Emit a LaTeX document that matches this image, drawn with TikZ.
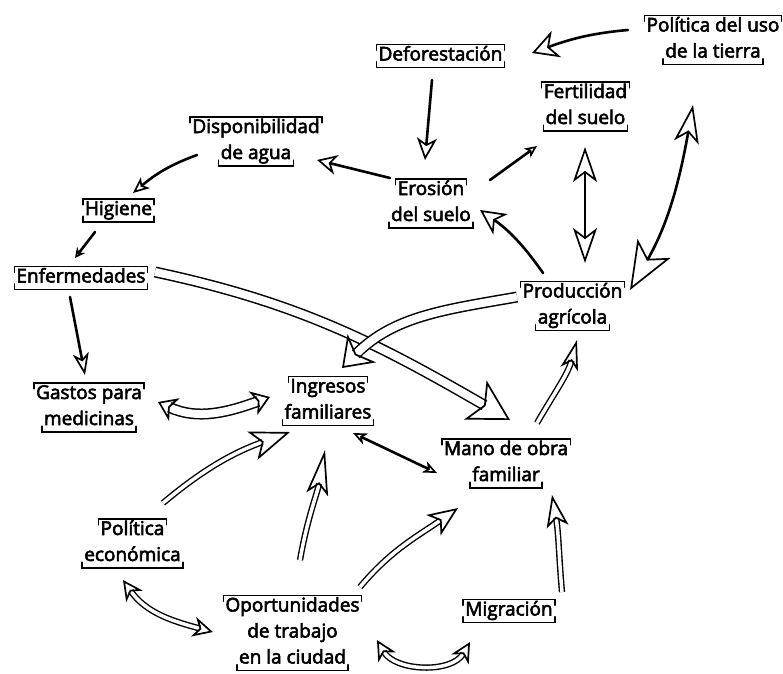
\documentclass[tikz,border=0pt]{standalone}
\usepackage{fontspec}
\setmainfont{Open Sans}[FakeBold=3]
\usetikzlibrary{arrows.meta,calc}
\begin{document}
\begin{tikzpicture}[x=1pt,y=-1pt,
  ln/.style={font=\fontsize{19}{26}\selectfont, inner sep=2pt, text height=14pt, text depth=5pt},
  brk/.style={line width=1.5pt, line cap=round},
  sl/.style={line width=2.6pt, line cap=round},
  dl/.style={double, double distance=3.5pt, line width=1.4pt},
  wl/.style={double, double distance=8pt, line width=1.5pt},
  hd/.style n args={3}{-{Stealth[open,length=#1,width=#2,inset=#3,line width=1.7pt]}},
  hdd/.style n args={6}{{Stealth[open,length=#1,width=#2,inset=#3,line width=1.7pt]}-{Stealth[open,length=#4,width=#5,inset=#6,line width=1.7pt]}}
]
\fill[white] (0,0) rectangle (783,673);
\useasboundingbox (0,0) rectangle (783,673);

% concept centres
\coordinate (deforest)   at (440.5,56);
\coordinate (politierra) at (713,39);
\coordinate (fert)       at (585.5,106.5);
\coordinate (eros)       at (431,203.5);
\coordinate (agua)       at (256,141.5);
\coordinate (higiene)    at (118.5,210.5);
\coordinate (enferm)     at (81,278);
\coordinate (gastos)     at (89,407.5);
\coordinate (ingresos)   at (328,401);
\coordinate (prod)       at (572.5,306);
\coordinate (mano)       at (506,463.5);
\coordinate (polecon)    at (132.5,543.5);
\coordinate (oport)      at (292.5,632);
\coordinate (migr)       at (509,611);

% text lines
\node[ln] (deforest-1)   at (440.5,56)  {Deforestación};
\node[ln] (politierra-1) at (713,27)    {Política del uso};
\node[ln] (politierra-2) at (713,53)    {de la tierra};
\node[ln] (fert-1)       at (585.5,93.5) {Fertilidad};
\node[ln] (fert-2)       at (585.5,119.5) {del suelo};
\node[ln] (eros-1)       at (431,190.5) {Erosión};
\node[ln] (eros-2)       at (431,216.5) {del suelo};
\node[ln] (agua-1)       at (256,128.5) {Disponibilidad};
\node[ln] (agua-2)       at (256,154.5) {de agua};
\node[ln] (higiene-1)    at (118.5,210.5) {Higiene};
\node[ln] (enferm-1)     at (81,278)    {Enfermedades};
\node[ln] (gastos-1)     at (89,394.5)  {Gastos para};
\node[ln] (gastos-2)     at (89,420.5)  {medicinas};
\node[ln] (ingresos-1)   at (328,388)   {Ingresos};
\node[ln] (ingresos-2)   at (328,414)   {familiares};
\node[ln] (prod-1)       at (572.5,293) {Producción};
\node[ln] (prod-2)       at (572.5,319) {agrícola};
\node[ln] (mano-1)       at (506,450.5) {Mano de obra};
\node[ln] (mano-2)       at (506,476.5) {familiar};
\node[ln] (polecon-1)    at (132.5,530.5) {Política};
\node[ln] (polecon-2)    at (132.5,556.5) {económica};
\node[ln] (oport-1)      at (292.5,607) {Oportunidades};
\node[ln] (oport-2)      at (292.5,633) {de trabajo};
\node[ln] (oport-3)      at (292.5,659) {en la ciudad};
\node[ln] (migr-1)       at (509,611)   {Migración};

% hand-drawn style brackets (top over first line, bottom under last line)
\foreach \a/\b in {deforest-1/deforest-1,politierra-1/politierra-2,fert-1/fert-2,eros-1/eros-2,agua-1/agua-2,higiene-1/higiene-1,enferm-1/enferm-1,gastos-1/gastos-2,ingresos-1/ingresos-2,prod-1/prod-2,mano-1/mano-2,polecon-1/polecon-2,oport-1/oport-3,migr-1/migr-1}{
  \draw[brk] ($(\a.north west)+(0,6)$) -- (\a.north west) -- (\a.north east) -- ($(\a.north east)+(0,6)$);
  \draw[brk] ($(\b.south west)+(0,-6)$) -- (\b.south west) -- (\b.south east) -- ($(\b.south east)+(0,-6)$);
}

% connectors
\draw[sl,hd={26pt}{28pt}{8pt}] ($(politierra)+(-85,-9)$) to[out=185,in=20] ($(deforest)+(91.5,-3)$);
\draw[sl,hd={22pt}{20pt}{6pt}] ($(deforest)+(-8.5,24)$) -- ($(eros)+(-6,-43.5)$);
\draw[sl,hd={12pt}{11pt}{3pt}] ($(eros)+(59,-23.5)$) -- ($(fert)+(-48.5,39.5)$);
\draw[sl,hd={20pt}{20pt}{6pt}] ($(eros)+(-41,-25.5)$) -- ($(agua)+(61,18.5)$);
\draw[sl,hd={16pt}{14pt}{4pt}] ($(agua)+(-59,13.5)$) to[out=200,in=40] ($(higiene)+(14.5,-17.5)$);
\draw[sl,hd={10pt}{10pt}{3pt}] ($(higiene)+(-23.5,21.5)$) -- ($(enferm)+(-6,-20)$);
\draw[sl,hd={22pt}{16pt}{6pt}] ($(enferm)+(-11,19)$) -- ($(gastos)+(-4,-32.5)$);

\draw[wl,hd={40pt}{45pt}{10pt}] ($(enferm)+(74,-6)$) to[out=-12,in=150] ($(mano)+(4,-43.5)$);
\draw[wl,hd={28pt}{40pt}{8pt}] ($(prod)+(-55.5,-9)$) to[out=190,in=45] ($(ingresos)+(14,-33)$);

\draw[sl,hd={25pt}{25pt}{7pt}] ($(prod)+(-29.5,-33)$) to[out=125,in=-35] ($(eros)+(49,6.5)$);
\draw[sl,hdd={35pt}{24pt}{9pt}{35pt}{24pt}{9pt}] ($(fert)+(-0.5,40.5)$) -- ($(prod)+(12.5,-43)$);
\draw[sl,hdd={38pt}{25pt}{10pt}{48pt}{38pt}{12pt}] ($(politierra)+(-20,66)$) to[out=-100,in=60] ($(prod)+(57.5,-16)$);
\draw[dl,hd={30pt}{18pt}{8pt}] ($(mano)+(31,-40.5)$) to[out=60,in=-105] ($(prod)+(4.5,34)$);

\draw[wl,hdd={18pt}{25pt}{5pt}{18pt}{25pt}{5pt}] ($(gastos)+(69,-5.5)$) to[out=-25,in=200] ($(ingresos)+(-58,-4)$);
\draw[sl,hdd={14pt}{12pt}{4pt}{14pt}{12pt}{4pt}] ($(ingresos)+(25,32)$) -- ($(mano)+(-69,9.5)$);
\draw[dl,hd={40pt}{30pt}{10pt}] ($(polecon)+(30.5,-40.5)$) to[out=40,in=200] ($(ingresos)+(-38,31)$);
\draw[dl,hd={45pt}{22pt}{10pt}] ($(oport)+(7.5,-72)$) to[out=80,in=-100] ($(ingresos)+(-3,49)$);
\draw[dl,hd={30pt}{25pt}{8pt}] ($(oport)+(67.5,-45)$) to[out=50,in=215] ($(mano)+(-48,44.5)$);
\draw[dl,hdd={20pt}{20pt}{6pt}{20pt}{20pt}{6pt}] ($(polecon)+(-9.5,36.5)$) to[out=-55,in=165] ($(oport)+(-79.5,0)$);
\draw[dl,hdd={20pt}{20pt}{6pt}{20pt}{20pt}{6pt}] ($(oport)+(84.5,8)$) to[out=-60,in=-120] ($(migr)+(-39,31)$);
\draw[dl,hd={32pt}{22pt}{8pt}] ($(migr)+(53,-19)$) to[out=95,in=-80] ($(mano)+(46,31.5)$);
\end{tikzpicture}
\end{document}
